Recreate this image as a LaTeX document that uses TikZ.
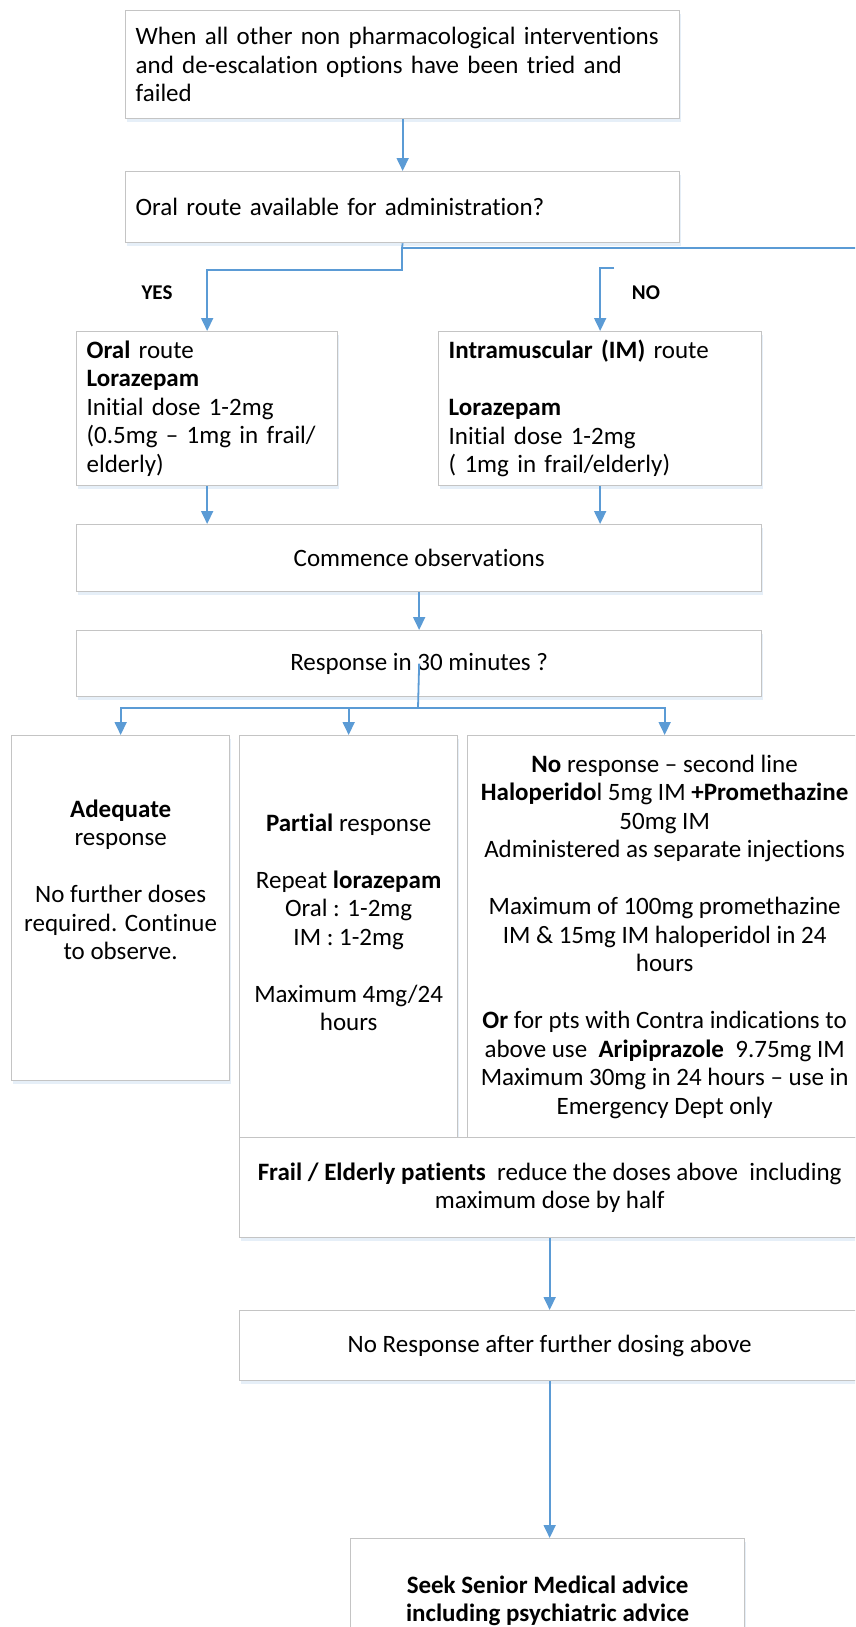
\documentclass[tikz,border=0pt]{standalone}
\usepackage{fontspec}
\setmainfont[Ligatures=NoCommon]{Carlito}
\usetikzlibrary{calc,arrows.meta,shadows}
\definecolor{boxgray}{RGB}{196,196,196}
\definecolor{flowblue}{RGB}{91,155,213}
\definecolor{shadowblue}{RGB}{214,228,243}
\newcommand{\flowfont}{\fontsize{25}{28.5}\selectfont}
\tikzset{
  flow box/.style={draw=boxgray,line width=1.3pt,fill=white,inner xsep=10pt,inner ysep=0pt,font=\flowfont,
    drop shadow={shadow xshift=1pt,shadow yshift=-3.5pt,fill=shadowblue,opacity=0.6}},
  left box/.style={flow box,align=left,anchor=north west,text width=#1},
  centre box/.style={flow box,align=center,anchor=north west},
  flow line/.style={draw=flowblue,line width=1.8pt},
  flow arrow/.style={flow line,-{Triangle[width=12pt,length=13pt]}},
  branch label/.style={font=\fontsize{21}{24}\selectfont\bfseries},
}

\begin{document}
\begin{tikzpicture}[x=1pt,y=-1pt]
\useasboundingbox (0,0) rectangle (855,1627);
\clip (0,0) rectangle (855,1627);
% route choice
\node[left box=534pt,minimum height=108pt] (start) at (125,10) {When all other non pharmacological interventions\\and de-escalation options have been tried and\\failed};
\node[left box=534pt,minimum height=71pt] (oralq) at (125,171) {Oral route available for administration?};
\node[left box=241pt,minimum height=154pt] (oral) at (76,331) {\textbf{Oral} route\\\textbf{Lorazepam}\\Initial dose 1-2mg\\(0.5mg -- 1mg in frail/\\elderly)};
\node[left box=303pt,minimum height=154pt] (im) at (438,331) {\textbf{Intramuscular (IM)} route\\[28.5pt]\textbf{Lorazepam}\\Initial dose 1-2mg\\( 1mg in frail/elderly)};
\node[branch label] (yes) at (157,293) {YES};
\node[branch label] (no) at (646,293) {NO};
% observation
\node[centre box,minimum width=685pt,minimum height=67pt] (observe) at (76,524) {Commence observations};
\node[centre box,minimum width=685pt,minimum height=66pt] (response) at (76,630) {Response in 30 minutes ?};
% outcomes
\node[centre box,minimum width=218pt,minimum height=345pt] (adequate) at (11,735) {\textbf{Adequate}\\response\\[28.5pt]No further doses\\required. Continue\\to observe.\\\mbox{}\\\mbox{}};
\node[centre box,minimum width=218pt,minimum height=402pt] (partial) at (239,735) {\textbf{Partial} response\\[28.5pt]Repeat \textbf{lorazepam}\\Oral : 1-2mg\\IM : 1-2mg\\[28.5pt]Maximum 4mg/24\\hours\\\mbox{}};
\node[centre box,minimum width=394pt,minimum height=402pt] (none) at (467,735) {\textbf{No} response -- second line\\\textbf{Haloperido}l 5mg IM \textbf{+Promethazine}\\50mg IM\\Administered as separate injections\\[28.5pt]Maximum of 100mg promethazine\\IM \& 15mg IM haloperidol in 24\\hours\\[28.5pt]\textbf{Or} for pts with Contra indications to\\above use\ \ \textbf{Aripiprazole}\ \ 9.75mg IM\\Maximum 30mg in 24 hours -- use in\\Emergency Dept only};
\node[centre box,minimum width=620pt,minimum height=100pt] (frail) at (239,1137) {\textbf{Frail / Elderly patients}\ \ reduce the doses above\ \ including\\maximum dose by half};
\node[centre box,minimum width=620pt,minimum height=70pt] (noresp) at (239,1310) {No Response after further dosing above};
\node[centre box,minimum width=394pt,minimum height=124pt] (senior) at (350,1538) {\textbf{Seek Senior Medical advice}\\\textbf{including psychiatric advice}};
% connectors
\coordinate (split) at (402,248);
\coordinate (offright) at (855,248);
\coordinate (yesbend) at (402,270);
\coordinate (nostub) at (614,268);
\coordinate (fork) at (418,708);
\draw[flow arrow] (start) -- (oralq);
\draw[flow line] (oralq.south) -- (split) -- (offright);
\draw[flow arrow] (split) -- (yesbend) -| (oral.north);
\draw[flow arrow] (nostub) -| (im.north);
\draw[flow arrow] (oral.south) -- (oral.south |- observe.north);
\draw[flow arrow] (im.south) -- (im.south |- observe.north);
\draw[flow arrow] (observe) -- (response);
\draw[flow line] (response.center) -- (fork);
\foreach \target in {adequate,partial,none}
  \draw[flow arrow] (fork) -| (\target.north);
\draw[flow arrow] (frail) -- (noresp);
\draw[flow arrow] (noresp.south) -- (noresp.south |- senior.north);
\end{tikzpicture}
\end{document}
